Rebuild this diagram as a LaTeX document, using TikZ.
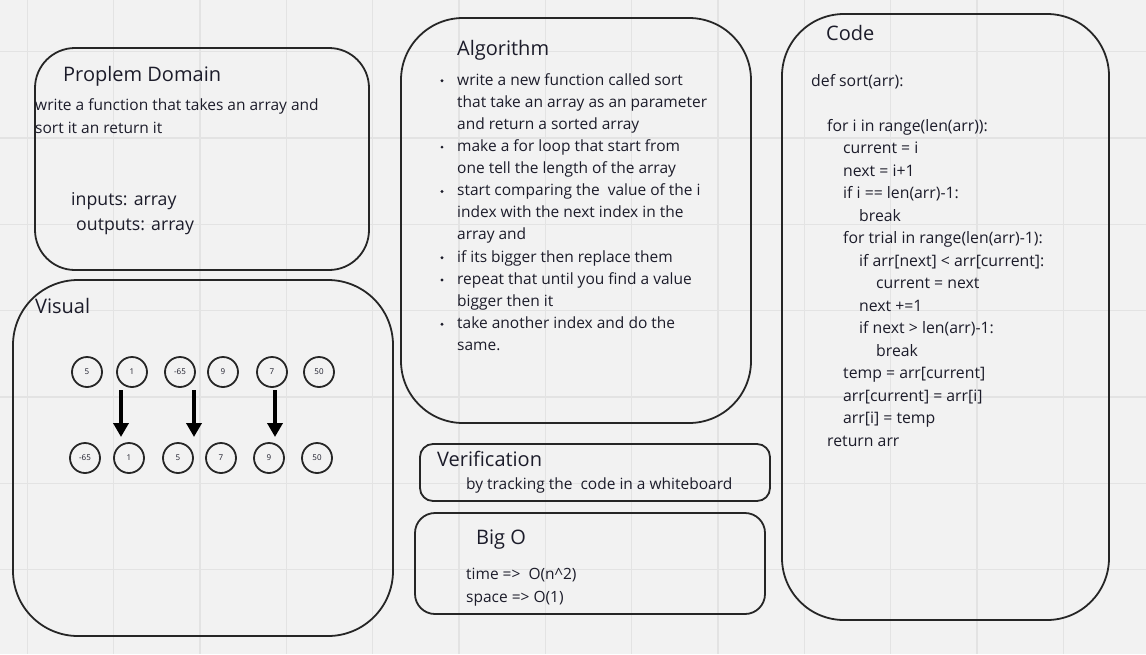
\documentclass[tikz,border=0pt]{standalone}
\usepackage{fontspec}
\setmainfont{Open Sans}
\usetikzlibrary{arrows.meta}
\definecolor{bg}{HTML}{F2F2F2}
\definecolor{gridc}{HTML}{E3E3E3}
\definecolor{ink}{HTML}{1C1C2A}
\definecolor{edge}{HTML}{262626}
\tikzset{
  panel/.style={draw=edge, line width=1.8pt},
  ttl/.style={anchor=base west, inner sep=0pt, text=ink, font=\fontsize{20}{24}\selectfont},
  txt/.style={anchor=base west, inner sep=0pt, text=ink, font=\fontsize{15.5}{18}\selectfont},
  codetxt/.style={anchor=base west, inner sep=0pt, text=ink, font=\fontsize{15.8}{18}\selectfont},
  big/.style={anchor=base west, inner sep=0pt, text=ink, font=\fontsize{17.7}{20}\selectfont},
  num/.style={circle, draw=edge, line width=1.8pt, minimum size=30pt, inner sep=0pt, text=ink, font=\fontsize{8}{9}\selectfont},
  dot/.style={circle, fill=ink, minimum size=3.2pt, inner sep=0pt},
  downarrow/.style={line width=4.2pt, -{Triangle[width=15pt,length=14pt]}, draw=black}
}
\begin{document}
\begin{tikzpicture}[x=1pt,y=-1pt]
\fill[bg] (0,0) rectangle (1146,654);
\useasboundingbox (0,0) rectangle (1146,654);
% grid
\foreach \k in {0,...,12} {\draw[gridc, line width=1.5pt] ({27.3+86.33*\k},0) -- ({27.3+86.33*\k},654);}
\foreach \k in {0,...,6} {\draw[gridc, line width=1.5pt] (0,{51.7+86.33*\k}) -- (1146,{51.7+86.33*\k});}

% panels
\draw[panel, rounded corners=40pt] (35,48) rectangle (369,270);
\draw[panel, rounded corners=65pt] (13,280) rectangle (393,636);
\draw[panel, rounded corners=62pt] (401,18) rectangle (751,423);
\draw[panel, rounded corners=13pt] (420,444) rectangle (770,501);
\draw[panel, rounded corners=20pt] (415,513) rectangle (765,614);
\draw[panel, rounded corners=62pt] (782,14) rectangle (1109,620);

% Problem domain
\node[ttl] (pdt) at (63,81) {Proplem Domain};
\node[txt] (pd1) at (35,110) {write a function that takes an array and};
\node[txt] (pd2) at (35,133) {sort it an return it};
\node[big] (pdi) at (71,205) {inputs: array};
\node[big] (pdo) at (76,230.5) {outputs: array};

% Visual
\node[ttl] (vt) at (35,313) {Visual};
\foreach \v/\x [count=\i] in {5/87,1/132,-65/180,9/223,7/272,50/319} {\node[num] (t\i) at (\x,372) {\v};}
\foreach \v/\x [count=\i] in {-65/85,1/129,5/178,7/221,9/269,50/317} {\node[num] (b\i) at (\x,458) {\v};}
\coordinate (a1s) at (121,390); \coordinate (a1e) at (121,437);
\coordinate (a2s) at (194,390); \coordinate (a2e) at (194,437);
\coordinate (a3s) at (275,390); \coordinate (a3e) at (275,437);
\draw[downarrow] (a1s) -- (a1e);
\draw[downarrow] (a2s) -- (a2e);
\draw[downarrow] (a3s) -- (a3e);

% Algorithm
\node[ttl] (at) at (457,55) {Algorithm};
\foreach \t [count=\i] in {
  write a new function called sort,
  that take an array as an parameter,
  and return a sorted array,
  make a for loop that start from,
  one tell the length of the array,
  start comparing the\ \ value of the i,
  index with the next index in the,
  array and,
  if its bigger then replace them,
  repeat that until you find a value,
  bigger then it,
  take another index and do the,
  same.} {\node[txt] (al\i) at (457,{85+22.14*(\i-1)}) {\t};}
\foreach \j in {1,4,6,9,10,12} {\node[dot] (bu\j) at (442,{80.7+22.14*(\j-1)}) {};}

% Verification
\node[ttl] (vft) at (437,466) {Verification};
\node[txt] (vf1) at (466,489) {by tracking the\ \ code in a whiteboard};

% Big O
\node[ttl] (bot) at (476,544) {Big O};
\node[txt] (bo1) at (466,579) {time =>\ \ O(n\^{}2)};
\node[txt] (bo2) at (466,602) {space => O(1)};

% Code
\node[ttl] (ct) at (826,40) {Code};
\node[codetxt] (c0) at (811,86) {def sort(arr):};
\foreach \x/\y/\t [count=\i] in {
  827/131/{for i in range(len(arr)):},
  843/153.5/{current = i},
  843/176/{next = i+1},
  843/198.5/{if i == len(arr)-1:},
  859/221/{break},
  843/243.5/{for trial in range(len(arr)-1):},
  859/266/{if arr[next] < arr[current]:},
  876/288.5/{current = next},
  859/311/{next +=1},
  859/333.5/{if next > len(arr)-1:},
  876/356/{break},
  843/378.5/{temp = arr[current]},
  843/401/{arr[current] = arr[i]},
  843/423.5/{arr[i] = temp},
  827/446/{return arr}} {\node[codetxt] (cl\i) at (\x,\y) {\t};}
\end{tikzpicture}
\end{document}
